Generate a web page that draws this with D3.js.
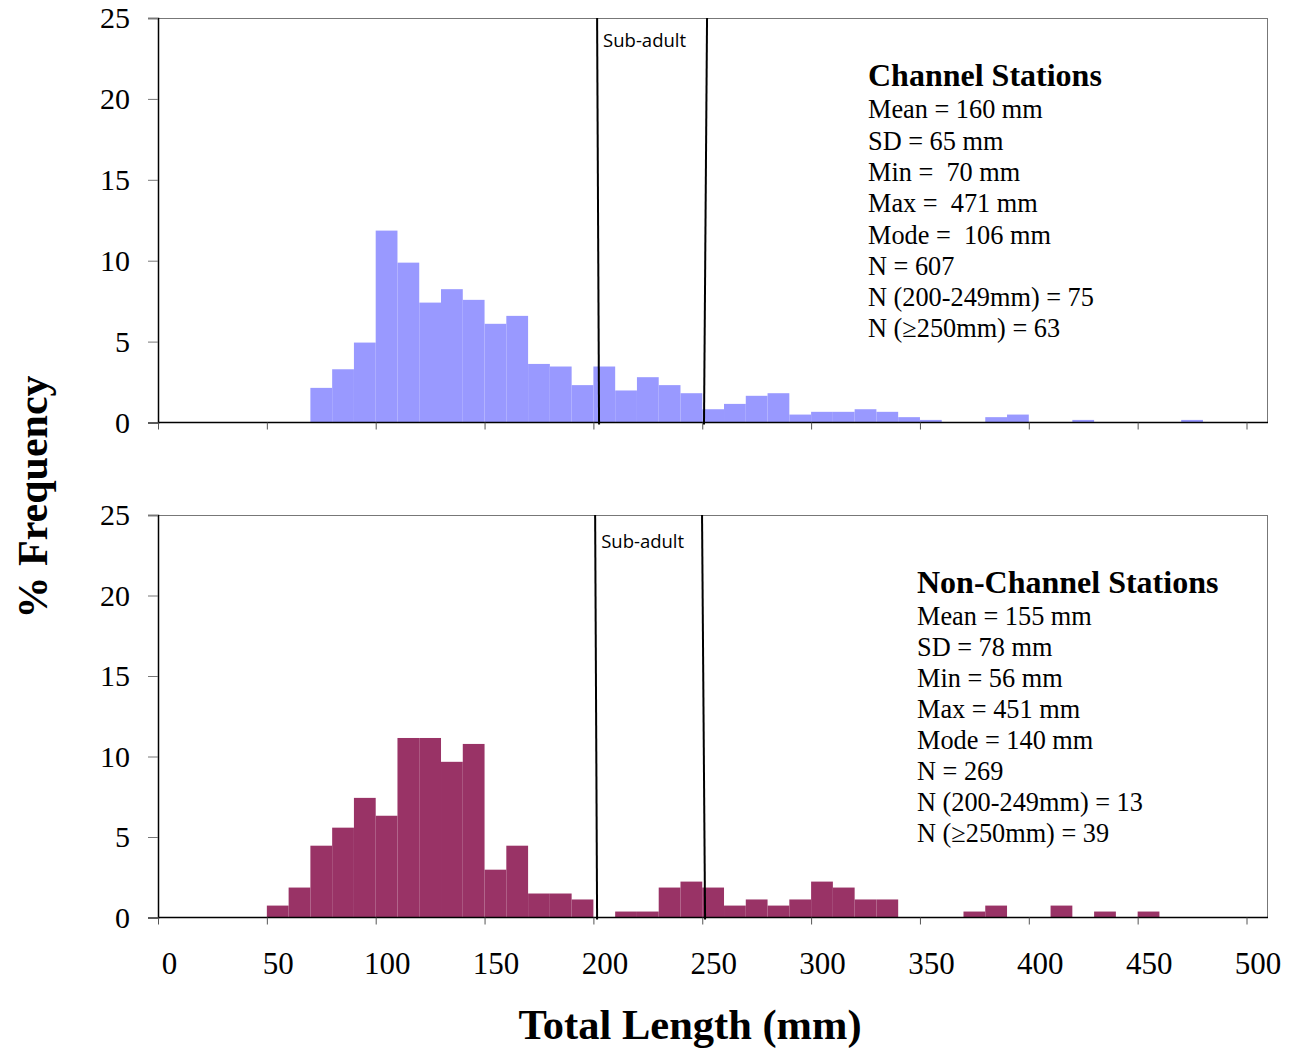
<!DOCTYPE html>
<html><head><meta charset="utf-8">
<script src="https://cdn.jsdelivr.net/npm/d3@7"></script>
<style>body{margin:0;background:#fff}svg{display:block}</style>
</head><body>
<svg id="chart" width="1295" height="1049"></svg>
<script>
// Bin start (mm), 10 mm wide bins
const binStarts = [50,60,70,80,90,100,110,120,130,140,150,160,170,180,190,200,210,220,230,240,250,260,270,280,290,300,310,320,330,340,350,360,370,380,390,400,410,420,430,440,450,460,470];
// % frequency, Channel Stations
const channelPct = [0,0,2.14,3.29,4.94,11.86,9.88,7.41,8.24,7.58,6.10,6.59,3.62,3.46,2.31,3.46,1.98,2.80,2.31,1.81,0.82,1.15,1.65,1.81,0.49,0.66,0.66,0.82,0.66,0.33,0.16,0,0,0.33,0.49,0,0,0.16,0,0,0,0,0.16];
// % frequency, Non-Channel Stations
const nonChannelPct = [0.74,1.86,4.46,5.58,7.43,6.32,11.15,11.15,9.67,10.78,2.97,4.46,1.49,1.49,1.12,0,0.37,0.37,1.86,2.23,1.86,0.74,1.12,0.74,1.12,2.23,1.86,1.12,1.12,0,0,0,0.37,0.74,0,0,0.74,0,0.37,0,0.37,0,0];
const binWidth = 10;
const xTicks = [0,50,100,150,200,250,300,350,400,450,500];
const yTicks = [0,5,10,15,20,25];
const channelStats = ["Mean = 160 mm","SD = 65 mm","Min =  70 mm","Max =  471 mm","Mode =  106 mm","N = 607","N (200-249mm) = 75","N (\u2265250mm) = 63"];
const nonChannelStats = ["Mean = 155 mm","SD = 78 mm","Min = 56 mm","Max = 451 mm","Mode = 140 mm","N = 269","N (200-249mm) = 13","N (\u2265250mm) = 39"];
// Sub-adult marker lines (mm at top, mm at bottom of panel)
const channelMarkers = [[201.7,202.6],[252.2,250.8]];
const nonChannelMarkers = [[200.8,201.7],[249.9,251.3]];

const svg = d3.select("#chart");
const serif = "'Liberation Serif','Times New Roman',serif";
const left = 158, right = 1268;
const x = d3.scaleLinear().domain([0,500]).range([left,1246.5]);

function panel(top, bottom, pct, color, markers, title, stats, statX, titleY, lineGap, showXLabels, subY){
  const y = d3.scaleLinear().domain([0,25]).range([bottom, top]);
  const g = svg.append("g");
  // frame
  g.append("line").attr("x1",left).attr("x2",right).attr("y1",top+0.5).attr("y2",top+0.5).attr("stroke","#777").attr("stroke-width",1);
  g.append("line").attr("x1",right-0.5).attr("x2",right-0.5).attr("y1",top).attr("y2",bottom).attr("stroke","#777").attr("stroke-width",1);
  // bars
  const data = binStarts.map((b,i)=>({b, v:pct[i]})).filter(d=>d.v>0);
  g.selectAll("rect.bar").data(data).enter().append("rect")
    .attr("x", d=>x(d.b)).attr("width", d=>x(d.b+binWidth)-x(d.b))
    .attr("y", d=>y(d.v)).attr("height", d=>y(0)-y(d.v))
    .attr("fill", color);
  // y axis
  const ya = d3.axisLeft(y).tickValues(yTicks).tickSize(10).tickFormat(d3.format("d"));
  const yg = g.append("g").attr("transform",`translate(${left},0)`).call(ya);
  yg.select(".domain").attr("stroke","#000").attr("stroke-width",1.5);
  yg.selectAll(".tick line").attr("stroke","#777");
  yg.selectAll(".tick text").attr("x",-28).attr("font-family",serif).attr("font-size",30).attr("fill","#000");
  // x axis
  const xa = d3.axisBottom(x).tickValues(xTicks).tickSize(7).tickFormat(showXLabels? d3.format("d") : "");
  const xg = g.append("g").attr("transform",`translate(0,${bottom})`).call(xa);
  xg.select(".domain").attr("d",`M${left},0H${right}`).attr("stroke","#000").attr("stroke-width",1.5);
  xg.selectAll(".tick line").attr("stroke","#555");
  xg.selectAll(".tick text").attr("x",11).attr("y",34).attr("dy","0.71em").attr("font-family",serif).attr("font-size",31).attr("fill","#000");
  // sub-adult markers
  g.selectAll("line.mk").data(markers).enter().append("line")
    .attr("x1",d=>x(d[0])).attr("x2",d=>x(d[1])).attr("y1",top).attr("y2",bottom+2)
    .attr("stroke","#000").attr("stroke-width",2);
  g.append("text").attr("x",x(markers[0][0])+6).attr("y",top+subY)
    .attr("font-family","'Open Sans','Liberation Sans',sans-serif").attr("font-size",18.5).text("Sub-adult");
  // stats block
  g.append("text").attr("x",statX).attr("y",titleY).attr("font-family",serif).attr("font-weight","bold").attr("font-size",32).text(title);
  g.selectAll("text.st").data(stats).enter().append("text")
    .attr("x",statX).attr("y",(d,i)=>titleY+32.3+i*lineGap)
    .attr("font-family",serif).attr("font-size",26.3).style("white-space","pre").text(d=>d);
}

panel(18, 422.5, channelPct, "#9999FF", channelMarkers, "Channel Stations", channelStats, 868, 86, 31.3, false, 29);
panel(515, 917.5, nonChannelPct, "#993366", nonChannelMarkers, "Non-Channel Stations", nonChannelStats, 917, 593, 30.9, true, 33);

svg.append("text").attr("transform","translate(47,497) rotate(-90)").attr("text-anchor","middle")
  .attr("font-family",serif).attr("font-weight","bold").attr("font-size",42).text("% Frequency");
svg.append("text").attr("x",690).attr("y",1039).attr("text-anchor","middle")
  .attr("font-family",serif).attr("font-weight","bold").attr("font-size",42.5).text("Total Length (mm)");
</script>
</body></html>
